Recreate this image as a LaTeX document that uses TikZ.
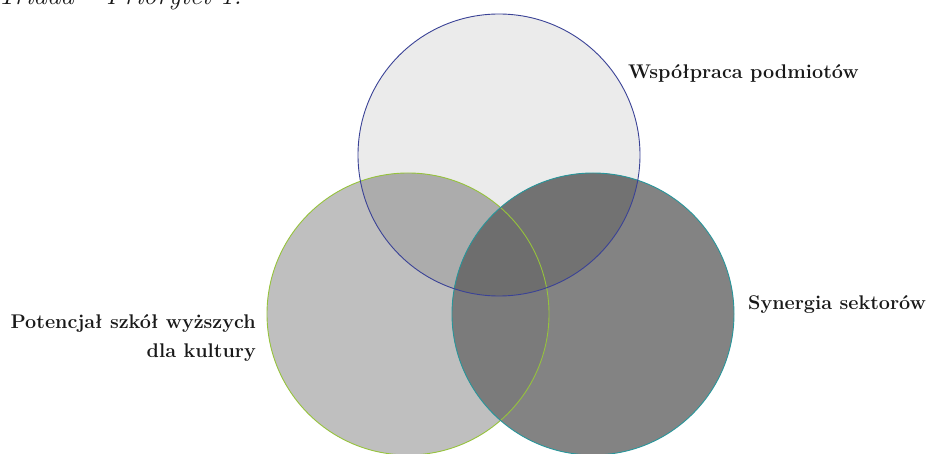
\documentclass[tikz,border=0pt]{standalone}
\usepackage{fontspec}
\definecolor{topline}{RGB}{58,66,150}
\definecolor{leftline}{RGB}{150,195,60}
\definecolor{rightline}{RGB}{40,150,155}
\definecolor{cT}{RGB}{235,235,235}
\definecolor{cL}{RGB}{191,191,191}
\definecolor{cR}{RGB}{131,131,131}
\definecolor{cTL}{RGB}{172,172,172}
\definecolor{cTR}{RGB}{114,114,114}
\definecolor{cLR}{RGB}{123,123,123}
\definecolor{cTLR}{RGB}{110,110,110}
\begin{document}
\begin{tikzpicture}[x=1pt,y=-1pt,
  circ/.style={circle, minimum size=282pt, inner sep=0pt},
  ring/.style={line width=0.9pt},
  lbl/.style={font=\bfseries\fontsize{19.8}{28}\selectfont, inner sep=0pt, text=black!90}]
\useasboundingbox (0,0) rectangle (929,454);
\node[circ] (top) at (499,155) {};
\node[circ] (lft) at (408,314) {};
\node[circ] (rgt) at (593,314) {};
% base fills
\fill[cT] (top.center) circle[radius=141pt];
\fill[cL] (lft.center) circle[radius=141pt];
\fill[cR] (rgt.center) circle[radius=141pt];
% left-right overlap
\begin{scope}
  \clip (lft.center) circle[radius=141pt];
  \fill[cLR] (rgt.center) circle[radius=141pt];
\end{scope}
% overlaps with the top circle
\begin{scope}
  \clip (top.center) circle[radius=141pt];
  \fill[cTL] (lft.center) circle[radius=141pt];
  \fill[cTR] (rgt.center) circle[radius=141pt];
  \clip (lft.center) circle[radius=141pt];
  \fill[cTLR] (rgt.center) circle[radius=141pt];
\end{scope}
% outlines
\draw[ring, leftline] (lft.center) circle[radius=141pt];
\draw[ring, rightline] (rgt.center) circle[radius=141pt];
\draw[ring, topline] (top.center) circle[radius=141pt];
% labels
\node[lbl, anchor=base west] (wsp) at (628,79) {Współpraca podmiotów};
\node[lbl, anchor=base west] (syn) at (748,309) {Synergia sektorów};
\node[lbl, anchor=base east] (pot1) at (256,329) {Potencjał szkół wyższych};
\node[lbl, anchor=base east] (pot2) at (256,357) {dla kultury};
\node[anchor=base west, inner sep=0pt, font=\itshape\fontsize{27}{30}\selectfont, text=black!90] (tit) at (-3,5) {Triada – Priorytet 1.};
\end{tikzpicture}
\end{document}
